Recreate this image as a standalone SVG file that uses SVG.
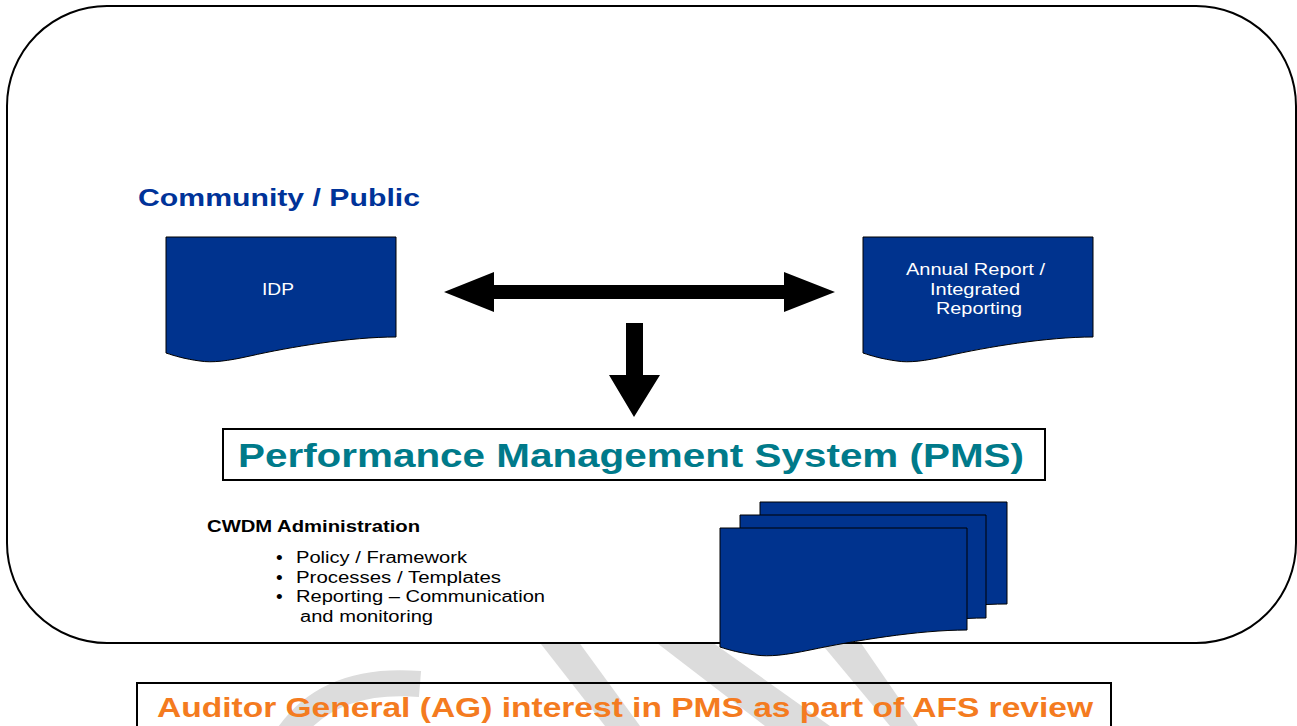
<svg xmlns="http://www.w3.org/2000/svg" width="1297" height="726" viewBox="0 0 1297 726">
<style>
.doc{fill:#00338E;stroke:#000;stroke-width:1}
.wm{fill:#DCDCDC}
.wt{font-family:"Liberation Sans",Arial,sans-serif;font-size:16px;fill:#fff}
.bl{font-family:"Liberation Sans",Arial,sans-serif;font-size:16px;fill:#000}
.bu{font-family:"Liberation Sans",Arial,sans-serif;font-size:19px;fill:#000}
.arr{fill:#000}
</style>
<rect x="0" y="0" width="1297" height="726" fill="#fff"/>
<g id="watermark">
<path d="M282,745 Q322,676 420,684" fill="none" stroke="#DCDCDC" stroke-width="26"/>
<polygon class="wm" points="530,630 570,630 640,726 605,726"/>
<polygon class="wm" points="640,630 695,630 830,726 765,726"/>
<polygon class="wm" points="810,630 852,630 918,726 890,726"/>
</g>
<rect id="frame" x="7" y="6" width="1289" height="637" rx="100" ry="100" fill="#fff" stroke="#000" stroke-width="2"/>
<g id="community">
<text x="138" y="206" font-family="'Liberation Sans',Arial,sans-serif" font-size="24" font-weight="bold" fill="#003399" textLength="282" lengthAdjust="spacingAndGlyphs">Community / Public</text>
</g>
<g id="idp">
<path class="doc" d="M166,237 H396 V337 C350,337 290,347 250,356 C228,361 212,363 200,361 C185,359 175,356 166,353 Z"/>
<text class="wt" x="262" y="295" textLength="32" lengthAdjust="spacingAndGlyphs">IDP</text>
</g>
<g id="annual">
<path class="doc" d="M863,237 H1093 V337 C1047,337 987,347 947,356 C925,361 909,363 897,361 C882,359 872,356 863,353 Z"/>
<text class="wt" x="906" y="275" textLength="139" lengthAdjust="spacingAndGlyphs">Annual Report /</text>
<text class="wt" x="930" y="295" textLength="90" lengthAdjust="spacingAndGlyphs">Integrated</text>
<text class="wt" x="936" y="314" textLength="86" lengthAdjust="spacingAndGlyphs">Reporting</text>
</g>
<g id="connectors">
<polygon class="arr" points="444,292 494,272 494,285 784,285 784,272 835,292 784,312 784,299 494,299 494,312"/>
<polygon class="arr" points="626,323 643,323 643,375 660,375 634,417 609,375 626,375"/>
</g>
<g id="pms">
<rect x="223" y="429" width="822" height="51" fill="none" stroke="#000" stroke-width="2"/>
<text x="238" y="467" font-family="'Liberation Sans',Arial,sans-serif" font-size="34" font-weight="bold" fill="#007A8A" textLength="786" lengthAdjust="spacingAndGlyphs">Performance Management System (PMS)</text>
</g>
<g id="cwdm">
<text x="207" y="532" font-family="'Liberation Sans',Arial,sans-serif" font-size="16" font-weight="bold" fill="#000" textLength="213" lengthAdjust="spacingAndGlyphs">CWDM Administration</text>
<text class="bu" x="276" y="564">•</text>
<text class="bl" x="296" y="563" textLength="171" lengthAdjust="spacingAndGlyphs">Policy / Framework</text>
<text class="bu" x="276" y="584">•</text>
<text class="bl" x="296" y="583" textLength="205" lengthAdjust="spacingAndGlyphs">Processes / Templates</text>
<text class="bu" x="276" y="603">•</text>
<text class="bl" x="296" y="602" textLength="249" lengthAdjust="spacingAndGlyphs">Reporting – Communication</text>
<text class="bl" x="300" y="622" textLength="133" lengthAdjust="spacingAndGlyphs">and monitoring</text>
</g>
<g id="stack">
<path class="doc" d="M760,502 H1007 V604 C958,604 893,614 850,623 C826,628 809,630 796,628 C780,626 769,623 760,620 Z"/>
<path class="doc" d="M740,515 H986 V618 C937,618 872,628 829,637 C805,642 788,644 775,642 C759,640 748,637 740,634 Z"/>
<path class="doc" d="M720,528 H967 V630 C918,630 853,641 810,650 C786,655 769,657 756,655 C740,653 729,650 720,647 Z"/>
</g>
<g id="ag">
<rect x="137" y="683" width="974" height="60" fill="none" stroke="#000" stroke-width="2"/>
<text x="157" y="717" font-family="'Liberation Sans',Arial,sans-serif" font-size="27" font-weight="bold" fill="#F47B20" textLength="936" lengthAdjust="spacingAndGlyphs">Auditor General (AG) interest in PMS as part of AFS review</text>
</g>
</svg>
